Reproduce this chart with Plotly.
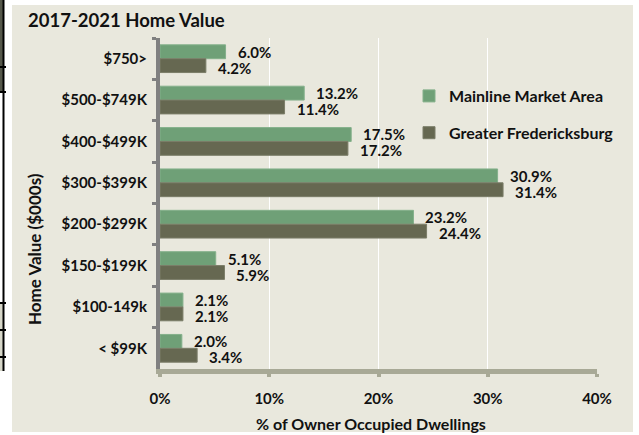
import plotly.graph_objects as go

# ---------------- data ----------------
categories = ["$750>", "$500-$749K", "$400-$499K", "$300-$399K",
              "$200-$299K", "$150-$199K", "$100-149k", "< $99K"]
mainline = [6.0, 13.2, 17.5, 30.9, 23.2, 5.1, 2.1, 2.0]
greater = [4.2, 11.4, 17.2, 31.4, 24.4, 5.9, 2.1, 3.4]
series_names = ["Mainline Market Area", "Greater Fredericksburg"]
x_ticks = [0, 10, 20, 30, 40]
x_tick_labels = ["0%", "10%", "20%", "30%", "40%"]

# ---------------- style ----------------
W, H = 639, 435
L, R, T, B = 160, 42, 38, 66
PW, PH = W - L - R, H - T - B
FONT = "Lato"
GREEN = "#6fa077"
DARK = "#666851"
BEIGE = "#e9e8dd"
TXT = "#111111"


def px(x):
    return (x - L) / PW


def py(y):
    return (H - B - y) / PH


fig = go.Figure()
fig.add_trace(go.Bar(y=categories, x=mainline, orientation="h", name=series_names[0],
                     marker=dict(color=GREEN, line=dict(color="#84b08b", width=1)),
                     legendgroup="a"))
fig.add_trace(go.Bar(y=categories, x=greater, orientation="h", name=series_names[1],
                     marker=dict(color=DARK, line=dict(color="#7b7d68", width=1)),
                     legendgroup="b"))

annotations = []
for cat, v in zip(categories, mainline):
    annotations.append(dict(x=v, y=cat, xref="x", yref="y", text=f"{v:.1f}%",
                            showarrow=False, xanchor="left", yanchor="middle",
                            xshift=10, yshift=7,
                            font=dict(family=FONT, size=15, color=TXT, weight="bold")))
for cat, v in zip(categories, greater):
    annotations.append(dict(x=v, y=cat, xref="x", yref="y", text=f"{v:.1f}%",
                            showarrow=False, xanchor="left", yanchor="middle",
                            xshift=10, yshift=-9,
                            font=dict(family=FONT, size=15, color=TXT, weight="bold")))

# title and axis titles
annotations.append(dict(x=px(26), y=py(20), xref="paper", yref="paper",
                        text="2017-2021 Home Value", showarrow=False,
                        xanchor="left", yanchor="middle",
                        font=dict(family=FONT, size=18.5, color=TXT, weight="bold")))
annotations.append(dict(x=px(371), y=py(423), xref="paper", yref="paper",
                        text="% of Owner Occupied Dwellings", showarrow=False,
                        xanchor="center", yanchor="middle",
                        font=dict(family=FONT, size=16, color=TXT, weight="bold")))
annotations.append(dict(x=px(34), y=py(249), xref="paper", yref="paper",
                        text="Home Value ($000s)", showarrow=False, textangle=-90,
                        xanchor="center", yanchor="middle",
                        font=dict(family=FONT, size=17, color=TXT, weight="bold")))

shapes = [
    # beige chart panel
    dict(type="rect", xref="paper", yref="paper", x0=px(12), x1=px(633),
         y0=py(432), y1=py(5), fillcolor=BEIGE, line=dict(width=0), layer="below"),
    # cropped table edge on the left
    dict(type="rect", xref="paper", yref="paper", x0=px(0), x1=px(3),
         y0=py(92), y1=py(0), fillcolor="#55574a", line=dict(width=0), layer="below"),
    dict(type="rect", xref="paper", yref="paper", x0=px(0), x1=px(3),
         y0=py(371), y1=py(303), fillcolor="#d6d6c8", line=dict(width=0), layer="below"),
    dict(type="line", xref="paper", yref="paper", x0=px(3.5), x1=px(3.5),
         y0=py(371), y1=py(0), line=dict(color="#000000", width=2), layer="below"),
]
for yy in [67, 92, 303, 330, 357]:
    shapes.append(dict(type="line", xref="paper", yref="paper", x0=px(0), x1=px(6),
                       y0=py(yy), y1=py(yy), line=dict(color="#000000", width=2),
                       layer="below"))

fig.update_layout(
    width=W, height=H,
    margin=dict(l=L, r=R, t=T, b=B, pad=0),
    paper_bgcolor="white",
    plot_bgcolor="rgba(0,0,0,0)",
    barmode="group", bargap=0.33, bargroupgap=0,
    font=dict(family=FONT, size=15, color=TXT),
    showlegend=True,
    legend=dict(x=px(409), y=py(79), xanchor="left", yanchor="top",
                bgcolor="rgba(0,0,0,0)", tracegroupgap=13,
                font=dict(family=FONT, size=16, color=TXT, weight="bold")),
    annotations=annotations,
    shapes=shapes,
)

fig.update_xaxes(range=[0, 40], tickvals=x_ticks, ticktext=x_tick_labels,
                 showgrid=True, gridcolor="white", gridwidth=1,
                 showline=True, linecolor="#a8a996", linewidth=5,
                 ticks="outside", ticklen=3, tickwidth=4, tickcolor="#a8a996",
                 ticklabelstandoff=9, zeroline=False,
                 tickfont=dict(family=FONT, size=15, color=TXT, weight="bold"),
                 fixedrange=True)
fig.update_yaxes(autorange="reversed", type="category",
                 showline=True, linecolor="#808080", linewidth=4,
                 ticks="outside", tickson="boundaries", ticklen=4, tickwidth=3,
                 tickcolor="#808080", ticklabelstandoff=6, showgrid=False,
                 tickfont=dict(family=FONT, size=15, color=TXT, weight="bold"),
                 fixedrange=True)

fig.write_html("out.html", config={"displayModeBar": False},
               post_script="document.body.style.margin='0';document.body.style.padding='0';")
